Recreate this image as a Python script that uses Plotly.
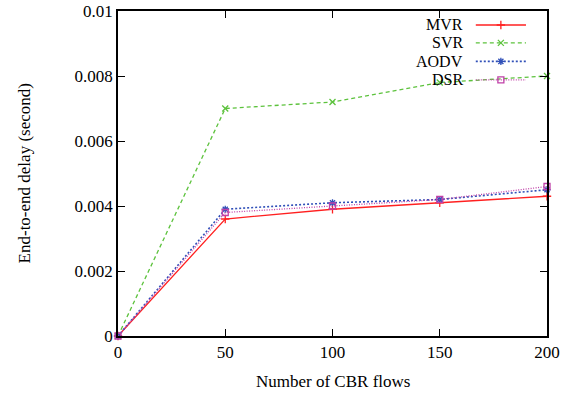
import plotly.graph_objects as go

flows = [0, 50, 100, 150, 200]
mvr = [0, 0.0036, 0.0039, 0.0041, 0.0043]
svr = [0, 0.0070, 0.0072, 0.0078, 0.0080]
aodv = [0, 0.0039, 0.0041, 0.0042, 0.0045]
dsr = [0, 0.0038, 0.0040, 0.0042, 0.0046]

names = ["MVR", "SVR", "AODV", "DSR"]
series = [mvr, svr, aodv, dsr]
colors = ["#ff2020", "#5cc23c", "#3050b8", "#c040a8"]
dashes = ["solid", "4px,3px", "2px,2px", "1px,1.5px"]
symbols = ["cross-thin", "x-thin", "asterisk", "square-open"]
widths = [1.3, 1.3, 1.6, 1.3]

FONT = "Liberation Serif"
FS = 17

fig = go.Figure()
for n, s, c, d, sym, w in zip(names, series, colors, dashes, symbols, widths):
    fig.add_trace(go.Scatter(
        x=flows, y=s, mode="lines+markers", name=n,
        line=dict(color=c, dash=d, width=w),
        marker=dict(symbol=sym, size=6, color=c, line=dict(color=c, width=1.3)),
        showlegend=False, cliponaxis=False))

# manual gnuplot-style key (text then sample)
key_y = [0.957, 0.902, 0.845, 0.788]
for n, c, d, sym, w, ky in zip(names, colors, dashes, symbols, widths, key_y):
    fig.add_trace(go.Scatter(
        x=[0.834, 0.951], y=[ky, ky], xaxis="x2", yaxis="y2", mode="lines",
        line=dict(color=c, dash=d, width=w), showlegend=False, hoverinfo="skip"))
    fig.add_trace(go.Scatter(
        x=[0.8925], y=[ky], xaxis="x2", yaxis="y2", mode="markers",
        marker=dict(symbol=sym, size=6, color=c, line=dict(color=c, width=1.3)),
        showlegend=False, hoverinfo="skip"))
    fig.add_annotation(x=0.808, y=ky, xref="paper", yref="paper", text=n,
                       showarrow=False, xanchor="right", yanchor="middle",
                       font=dict(family=FONT, size=16, color="black"))

fig.add_annotation(x=0.5, y=-0.1415, xref="paper", yref="paper",
                   text="Number of CBR flows", showarrow=False,
                   xanchor="center", yanchor="middle",
                   font=dict(family=FONT, size=FS, color="black"))
fig.add_annotation(x=-0.217, y=0.5, xref="paper", yref="paper",
                   text="End-to-end delay (second)", showarrow=False, textangle=-90,
                   xanchor="center", yanchor="middle",
                   font=dict(family=FONT, size=FS, color="black"))

axis_common = dict(showline=True, linecolor="black", linewidth=1.5, mirror="allticks",
                   ticks="inside", ticklen=7, tickcolor="black", showgrid=False,
                   zeroline=False, automargin=False,
                   tickfont=dict(family=FONT, size=FS, color="black"))

fig.update_layout(
    width=580, height=399,
    margin=dict(l=118, r=33, t=11, b=63),
    paper_bgcolor="white", plot_bgcolor="white",
    font=dict(family=FONT),
    xaxis=dict(range=[0, 200], tickvals=[0, 50, 100, 150, 200], **axis_common),
    yaxis=dict(range=[0, 0.01], tickvals=[0, 0.002, 0.004, 0.006, 0.008, 0.01],
               ticktext=["0", "0.002", "0.004", "0.006", "0.008", "0.01"],
               **axis_common),
    xaxis2=dict(range=[0, 1], overlaying="x", visible=False),
    yaxis2=dict(range=[0, 1], overlaying="y", visible=False),
)

fig.write_html("out.html", config={"displayModeBar": False},
               post_script="document.body.style.margin='0px';")
